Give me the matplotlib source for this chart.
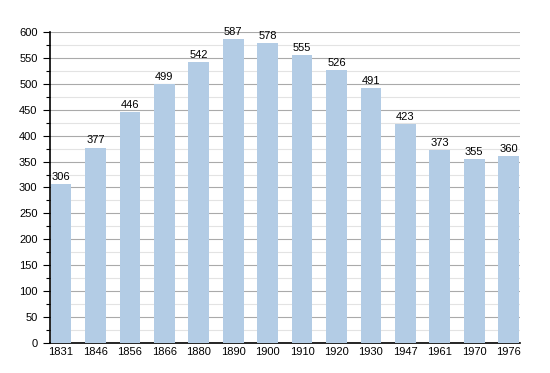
import numpy as np
import matplotlib.pyplot as plt
from matplotlib.ticker import MultipleLocator

years = ["1831", "1846", "1856", "1866", "1880", "1890", "1900",
         "1910", "1920", "1930", "1947", "1961", "1970", "1976"]
population = [306, 377, 446, 499, 542, 587, 578, 555, 526, 491, 423, 373, 355, 360]

plt.rcParams['font.family'] = ['Liberation Sans', 'DejaVu Sans']

fig = plt.figure(figsize=(5.5, 3.73), dpi=100)
ax = fig.add_axes([0.0909, 0.0804, 0.854, 0.834])

x = np.arange(len(years))
bars = ax.bar(x, population, width=0.6, color="#b3cce5", zorder=3)

for xi, v in zip(x, population):
    ax.text(xi, v + 4, str(v), ha="center", va="bottom", fontsize=8, zorder=4)

ax.set_xlim(-0.32, len(years) - 0.68)
ax.set_ylim(0, 600)
ax.set_xticks(x)
ax.set_xticklabels(years)
ax.yaxis.set_major_locator(MultipleLocator(50))
ax.yaxis.set_minor_locator(MultipleLocator(25))
ax.grid(axis="y", which="major", color="#aaaaaa", linewidth=0.8, zorder=0)
ax.grid(axis="y", which="minor", color="#e3e3e3", linewidth=0.8, zorder=0)

for s in ["top", "right"]:
    ax.spines[s].set_visible(False)
ax.spines["left"].set_linewidth(1.2)
ax.spines["bottom"].set_linewidth(1.2)
ax.tick_params(axis="y", which="major", length=5, labelsize=8, width=0.8, pad=4)
ax.tick_params(axis="y", which="minor", length=3, width=0.8)
ax.tick_params(axis="x", length=0, labelsize=8, pad=3)

fig.savefig("out.png")
